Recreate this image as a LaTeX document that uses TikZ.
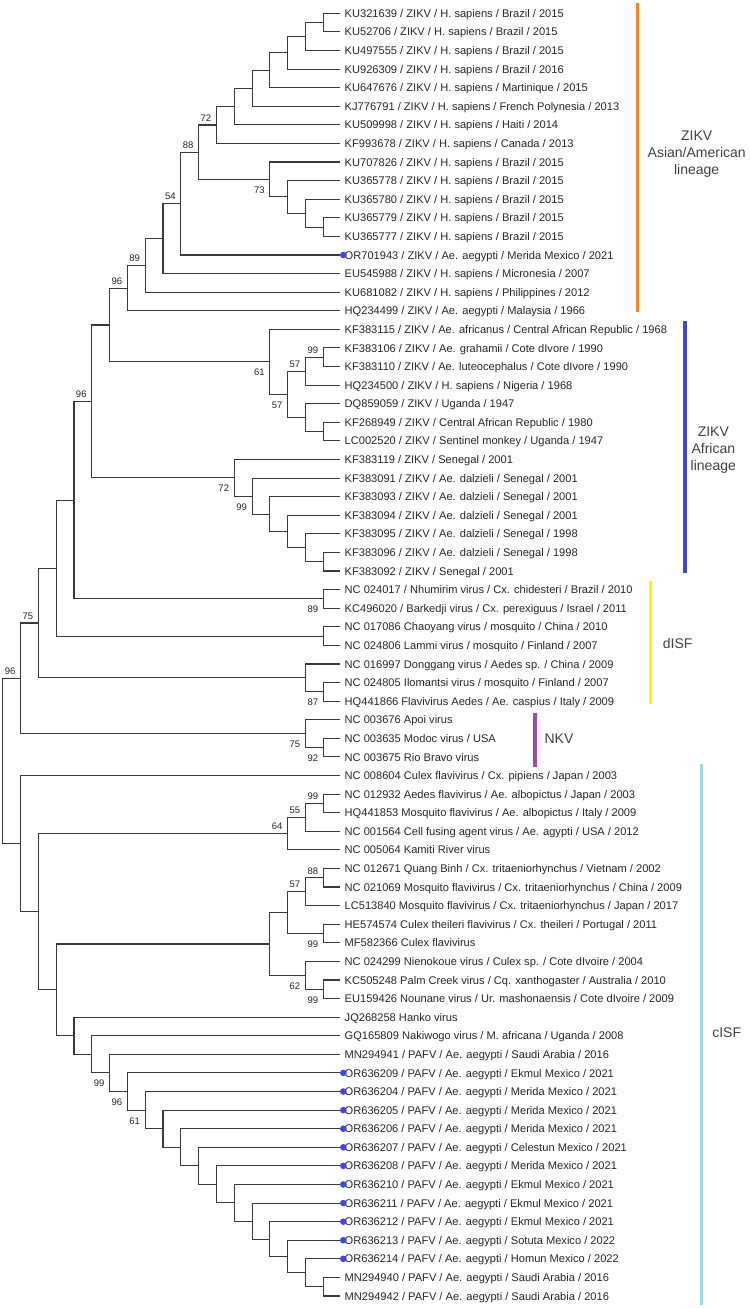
\documentclass[tikz,border=0pt]{standalone}
\usepackage{fontspec}
\setmainfont{Liberation Sans}
\usetikzlibrary{calc}
\definecolor{brc}{HTML}{3A3A3A}
\definecolor{txt}{HTML}{262626}
\definecolor{cltxt}{HTML}{404040}
\definecolor{dotc}{HTML}{4545D8}
\definecolor{orangebar}{HTML}{FF7F27}
\definecolor{bluebar}{HTML}{3F48CC}
\definecolor{yellowbar}{HTML}{FFF200}
\definecolor{purplebar}{HTML}{A349A4}
\definecolor{lightbluebar}{HTML}{99D9EA}
\tikzset{
  branch/.style={draw=brc, line width=1.1pt},
  leaf/.style={anchor=base west, inner sep=0pt, font=\fontsize{11.1}{13}\selectfont, text=txt},
  boot/.style={inner sep=0pt, anchor=base east, font=\fontsize{9.5}{11}\selectfont, text=txt},
  dotm/.style={circle, fill=dotc, inner sep=0pt, minimum size=6.6pt},
  cladetext/.style={align=center, font=\fontsize{14}{16.7}\selectfont, text=cltxt},
  bar/.style={line width=3.5pt}
}
\newcommand\mkleaf[2]{%
  \coordinate (t#1) at (340,{13.3+18.59*(#1-1)});
  \node[leaf] (l#1) at (344.5,{17.4+18.59*(#1-1)}) {#2};}
\newcommand\mkdot[1]{\node[dotm] (d#1) at (343.3,{13.3+18.59*(#1-1)}) {};}
\newcommand\mkclade[4]{%
  \path let \p1=($(#3)!0.5!(#4)$) in coordinate (#1) at ({341.1pt-17.81pt*#2},\y1);
  \draw[branch] (#3) -- (#1 |- #3) -- (#1 |- #4) -- (#4);}
\newcommand\bsa[2]{\node[boot] (b#1) at ($(#1)+(-5,-3.7)$) {#2};}
\newcommand\bsb[2]{\node[boot] (b#1) at ($(#1)+(-5,14)$) {#2};}
\begin{document}
\begin{tikzpicture}[x=1pt,y=-1pt]
\useasboundingbox (0,0) rectangle (750,1308);
% leaves
\mkleaf{1}{KU321639 / ZIKV / H. sapiens / Brazil / 2015}
\mkleaf{2}{KU52706 / ZIKV / H. sapiens / Brazil / 2015}
\mkleaf{3}{KU497555 / ZIKV / H. sapiens / Brazil / 2015}
\mkleaf{4}{KU926309 / ZIKV / H. sapiens / Brazil / 2016}
\mkleaf{5}{KU647676 / ZIKV / H. sapiens / Martinique / 2015}
\mkleaf{6}{KJ776791 / ZIKV / H. sapiens / French Polynesia / 2013}
\mkleaf{7}{KU509998 / ZIKV / H. sapiens / Haiti / 2014}
\mkleaf{8}{KF993678 / ZIKV / H. sapiens / Canada / 2013}
\mkleaf{9}{KU707826 / ZIKV / H. sapiens / Brazil / 2015}
\mkleaf{10}{KU365778 / ZIKV / H. sapiens / Brazil / 2015}
\mkleaf{11}{KU365780 / ZIKV / H. sapiens / Brazil / 2015}
\mkleaf{12}{KU365779 / ZIKV / H. sapiens / Brazil / 2015}
\mkleaf{13}{KU365777 / ZIKV / H. sapiens / Brazil / 2015}
\mkleaf{14}{OR701943 / ZIKV / Ae. aegypti / Merida Mexico / 2021}
\mkleaf{15}{EU545988 / ZIKV / H. sapiens / Micronesia / 2007}
\mkleaf{16}{KU681082 / ZIKV / H. sapiens / Philippines / 2012}
\mkleaf{17}{HQ234499 / ZIKV / Ae. aegypti / Malaysia / 1966}
\mkleaf{18}{KF383115 / ZIKV / Ae. africanus / Central African Republic / 1968}
\mkleaf{19}{KF383106 / ZIKV / Ae. grahamii / Cote dIvore / 1990}
\mkleaf{20}{KF383110 / ZIKV / Ae. luteocephalus / Cote dIvore / 1990}
\mkleaf{21}{HQ234500 / ZIKV / H. sapiens / Nigeria / 1968}
\mkleaf{22}{DQ859059 / ZIKV / Uganda / 1947}
\mkleaf{23}{KF268949 / ZIKV / Central African Republic / 1980}
\mkleaf{24}{LC002520 / ZIKV / Sentinel monkey / Uganda / 1947}
\mkleaf{25}{KF383119 / ZIKV / Senegal / 2001}
\mkleaf{26}{KF383091 / ZIKV / Ae. dalzieli / Senegal / 2001}
\mkleaf{27}{KF383093 / ZIKV / Ae. dalzieli / Senegal / 2001}
\mkleaf{28}{KF383094 / ZIKV / Ae. dalzieli / Senegal / 2001}
\mkleaf{29}{KF383095 / ZIKV / Ae. dalzieli / Senegal / 1998}
\mkleaf{30}{KF383096 / ZIKV / Ae. dalzieli / Senegal / 1998}
\mkleaf{31}{KF383092 / ZIKV / Senegal / 2001}
\mkleaf{32}{NC 024017 / Nhumirim virus / Cx. chidesteri / Brazil / 2010}
\mkleaf{33}{KC496020 / Barkedji virus / Cx. perexiguus / Israel / 2011}
\mkleaf{34}{NC 017086 Chaoyang virus / mosquito / China / 2010}
\mkleaf{35}{NC 024806 Lammi virus / mosquito / Finland / 2007}
\mkleaf{36}{NC 016997 Donggang virus / Aedes sp. / China / 2009}
\mkleaf{37}{NC 024805 Ilomantsi virus / mosquito / Finland / 2007}
\mkleaf{38}{HQ441866 Flavivirus Aedes / Ae. caspius / Italy / 2009}
\mkleaf{39}{NC 003676 Apoi virus}
\mkleaf{40}{NC 003635 Modoc virus / USA}
\mkleaf{41}{NC 003675 Rio Bravo virus}
\mkleaf{42}{NC 008604 Culex flavivirus / Cx. pipiens / Japan / 2003}
\mkleaf{43}{NC 012932 Aedes flavivirus / Ae. albopictus / Japan / 2003}
\mkleaf{44}{HQ441853 Mosquito flavivirus / Ae. albopictus / Italy / 2009}
\mkleaf{45}{NC 001564 Cell fusing agent virus / Ae. agypti / USA / 2012}
\mkleaf{46}{NC 005064 Kamiti River virus}
\mkleaf{47}{NC 012671 Quang Binh / Cx. tritaeniorhynchus / Vietnam / 2002}
\mkleaf{48}{NC 021069 Mosquito flavivirus / Cx. tritaeniorhynchus / China / 2009}
\mkleaf{49}{LC513840 Mosquito flavivirus / Cx. tritaeniorhynchus / Japan / 2017}
\mkleaf{50}{HE574574 Culex theileri flavivirus / Cx. theileri / Portugal / 2011}
\mkleaf{51}{MF582366 Culex flavivirus}
\mkleaf{52}{NC 024299 Nienokoue virus / Culex sp. / Cote dIvoire / 2004}
\mkleaf{53}{KC505248 Palm Creek virus / Cq. xanthogaster / Australia / 2010}
\mkleaf{54}{EU159426 Nounane virus / Ur. mashonaensis / Cote dIvoire / 2009}
\mkleaf{55}{JQ268258 Hanko virus}
\mkleaf{56}{GQ165809 Nakiwogo virus / M. africana / Uganda / 2008}
\mkleaf{57}{MN294941 / PAFV / Ae. aegypti / Saudi Arabia / 2016}
\mkleaf{58}{OR636209 / PAFV / Ae. aegypti / Ekmul Mexico / 2021}
\mkleaf{59}{OR636204 / PAFV / Ae. aegypti / Merida Mexico / 2021}
\mkleaf{60}{OR636205 / PAFV / Ae. aegypti / Merida Mexico / 2021}
\mkleaf{61}{OR636206 / PAFV / Ae. aegypti / Merida Mexico / 2021}
\mkleaf{62}{OR636207 / PAFV / Ae. aegypti / Celestun Mexico / 2021}
\mkleaf{63}{OR636208 / PAFV / Ae. aegypti / Merida Mexico / 2021}
\mkleaf{64}{OR636210 / PAFV / Ae. aegypti / Ekmul Mexico / 2021}
\mkleaf{65}{OR636211 / PAFV / Ae. aegypti / Ekmul Mexico / 2021}
\mkleaf{66}{OR636212 / PAFV / Ae. aegypti / Ekmul Mexico / 2021}
\mkleaf{67}{OR636213 / PAFV / Ae. aegypti / Sotuta Mexico / 2022}
\mkleaf{68}{OR636214 / PAFV / Ae. aegypti / Homun Mexico / 2022}
\mkleaf{69}{MN294940 / PAFV / Ae. aegypti / Saudi Arabia / 2016}
\mkleaf{70}{MN294942 / PAFV / Ae. aegypti / Saudi Arabia / 2016}
% ZIKV Asian/American
\mkclade{A1}{1}{t1}{t2}
\mkclade{A2}{2}{A1}{t3}
\mkclade{A3}{3}{A2}{t4}
\mkclade{A4}{4}{A3}{t5}
\mkclade{A5}{5}{A4}{t6}
\mkclade{A6}{6}{A5}{t7}
\mkclade{A7}{7}{A6}{t8}\bsa{A7}{72}
\mkclade{B1}{1}{t12}{t13}
\mkclade{B2}{2}{t11}{B1}
\mkclade{B3}{3}{t10}{B2}
\mkclade{B4}{4}{t9}{B3}\bsb{B4}{73}
\mkclade{A8}{8}{A7}{B4}\bsa{A8}{88}
\mkclade{A9}{9}{A8}{t14}\bsa{A9}{54}
\mkclade{A10}{10}{A9}{t15}
\mkclade{A11}{11}{A10}{t16}\bsa{A11}{89}
\mkclade{A12}{12}{A11}{t17}\bsa{A12}{96}
% ZIKV African
\mkclade{C1}{1}{t19}{t20}\bsa{C1}{99}
\mkclade{C2}{2}{C1}{t21}\bsa{C2}{57}
\mkclade{D1}{1}{t23}{t24}
\mkclade{D2}{2}{t22}{D1}
\mkclade{C3}{3}{C2}{D2}\bsb{C3}{57}
\mkclade{C4}{4}{t18}{C3}\bsb{C4}{61}
\mkclade{A13}{13}{A12}{C4}
\mkclade{E1}{1}{t30}{t31}
\mkclade{E2}{2}{t29}{E1}
\mkclade{E3}{3}{t28}{E2}
\mkclade{E4}{4}{t27}{E3}
\mkclade{E5}{5}{t26}{E4}\bsb{E5}{99}
\mkclade{E6}{6}{t25}{E5}\bsb{E6}{72}
\mkclade{A14}{14}{A13}{E6}\bsa{A14}{96}
% dISF
\mkclade{F1}{1}{t32}{t33}\bsb{F1}{89}
\mkclade{A15}{15}{A14}{F1}
\mkclade{F2}{1}{t34}{t35}
\mkclade{A16}{16}{A15}{F2}
\mkclade{G1}{1}{t37}{t38}\bsb{G1}{87}
\mkclade{G2}{2}{t36}{G1}
\mkclade{A17}{17}{A16}{G2}\bsa{A17}{75}
% NKV
\mkclade{H1}{1}{t40}{t41}\bsb{H1}{92}
\mkclade{H2}{2}{t39}{H1}\bsb{H2}{75}
\mkclade{A18}{18}{A17}{H2}\bsa{A18}{96}
% cISF
\mkclade{J1}{1}{t43}{t44}\bsa{J1}{99}
\mkclade{J2}{2}{J1}{t45}\bsa{J2}{55}
\mkclade{J3}{3}{J2}{t46}\bsa{J3}{64}
\mkclade{K1}{1}{t47}{t48}\bsa{K1}{88}
\mkclade{K2}{2}{K1}{t49}\bsa{K2}{57}
\mkclade{K3}{1}{t50}{t51}\bsb{K3}{99}
\mkclade{K4}{3}{K2}{K3}
\mkclade{K5}{1}{t53}{t54}\bsb{K5}{99}
\mkclade{K6}{2}{t52}{K5}\bsb{K6}{62}
\mkclade{K7}{4}{K4}{K6}
\mkclade{M1}{1}{t69}{t70}
\mkclade{M2}{2}{t68}{M1}
\mkclade{M3}{3}{t67}{M2}
\mkclade{M4}{4}{t66}{M3}
\mkclade{M5}{5}{t65}{M4}
\mkclade{M6}{6}{t64}{M5}
\mkclade{M7}{7}{t63}{M6}
\mkclade{M8}{8}{t62}{M7}
\mkclade{M9}{9}{t61}{M8}
\mkclade{M10}{10}{t60}{M9}
\mkclade{M11}{11}{t59}{M10}\bsb{M11}{61}
\mkclade{M12}{12}{t58}{M11}\bsb{M12}{96}
\mkclade{M13}{13}{t57}{M12}\bsb{M13}{99}
\mkclade{M14}{14}{t56}{M13}
\mkclade{M15}{15}{t55}{M14}
\mkclade{K8}{16}{K7}{M15}
\mkclade{J4}{17}{J3}{K8}
\mkclade{I1}{18}{t42}{J4}
\mkclade{R}{19}{A18}{I1}
% dots
\mkdot{14}
\foreach \i in {58,...,68} {\mkdot{\i}}
% bars and clade names
\draw[bar, orangebar] (637.3,3.3) -- (637.3,311.7);
\draw[bar, bluebar] (685,320.7) -- (685,573.3);
\draw[bar, yellowbar] (650.7,580.7) -- (650.7,704);
\draw[bar, purplebar] (535,712.7) -- (535,766.7);
\draw[bar, lightbluebar] (701.7,764) -- (701.7,1305);
\node[cladetext] (cA) at (696.7,154) {ZIKV\\Asian/American\\lineage};
\node[cladetext] (cB) at (713.3,450) {ZIKV\\African\\lineage};
\node[cladetext] (cC) at (677.7,643.3) {dISF};
\node[cladetext] (cD) at (559,739) {NKV};
\node[cladetext] (cE) at (726.7,1032.7) {cISF};
\end{tikzpicture}
\end{document}
